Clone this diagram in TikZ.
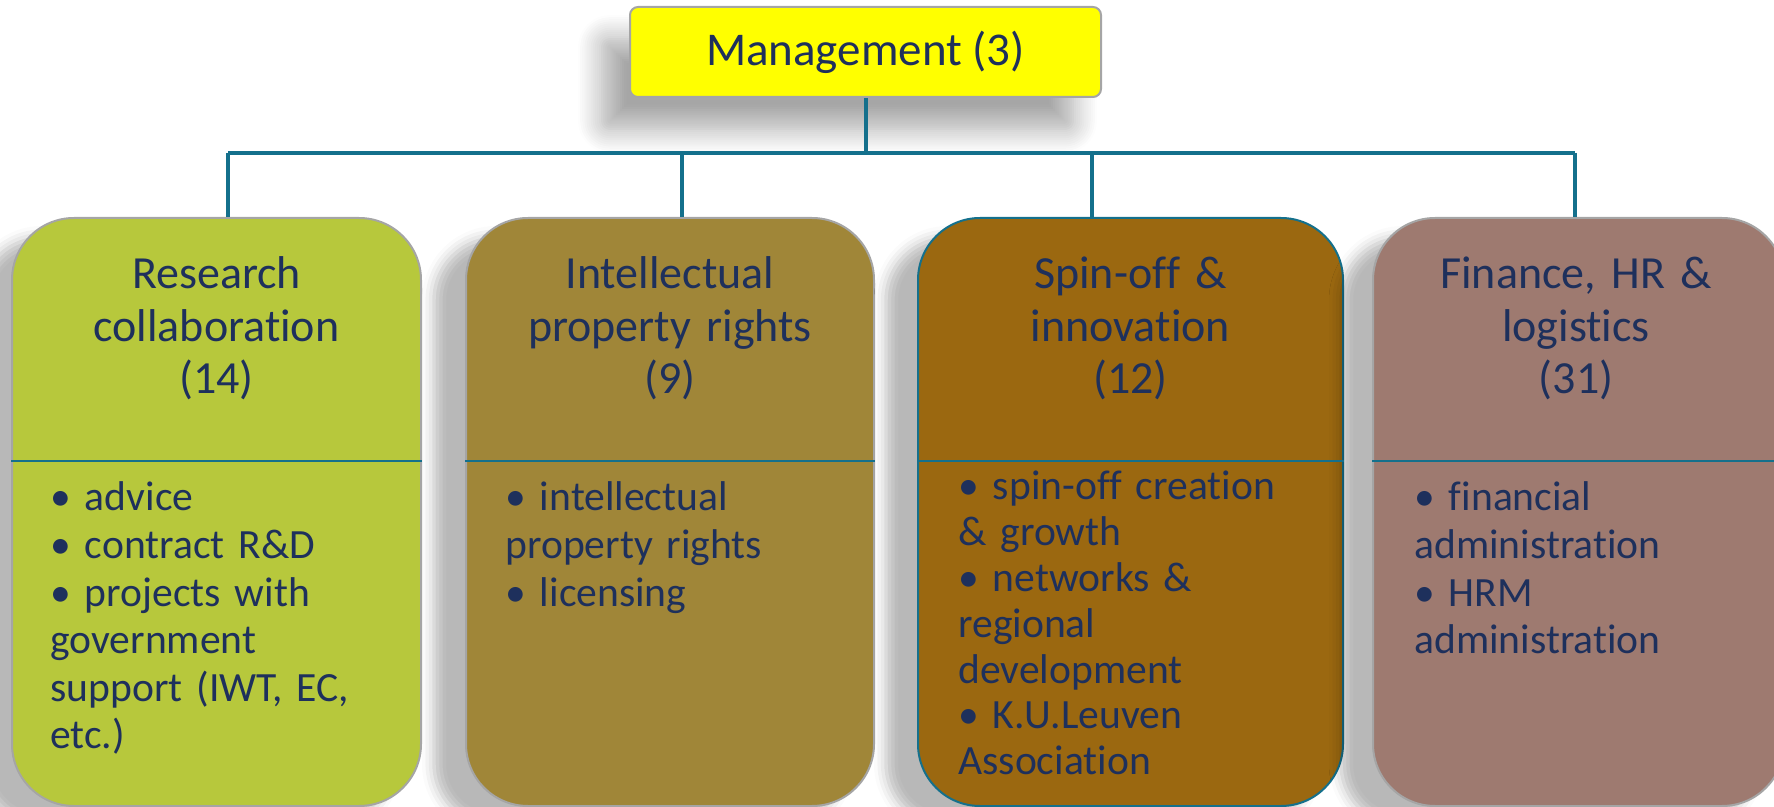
\documentclass[tikz,border=0pt]{standalone}
\usepackage{fontspec}
\setmainfont{Carlito}[Ligatures=NoCommon]
\usetikzlibrary{positioning}
\usetikzlibrary{shadows.blur}
\definecolor{ctx}{RGB}{30,48,92}
\definecolor{cln}{RGB}{20,112,140}
\definecolor{cbd}{RGB}{165,165,165}
\definecolor{cm}{RGB}{255,255,0}
\definecolor{c1}{RGB}{183,200,60}
\definecolor{c2}{RGB}{160,134,56}
\definecolor{c3}{RGB}{155,104,16}
\definecolor{c4}{RGB}{158,122,112}
\tikzstyle{boss}=[ctx, draw=cbd, line width=1pt, fill=cm, rounded corners=4pt, minimum width=235.5pt, minimum height=45pt, font=\fontsize{23.5}{26}\selectfont, blur shadow={shadow xshift=-14pt, shadow yshift=-16pt, shadow opacity=35, shadow blur radius=12pt, shadow blur steps=12}]
\tikzstyle{unit}=[draw=cbd, line width=1pt, rounded corners=31pt, minimum height=294pt, blur shadow={shadow xshift=-16pt, shadow yshift=-10pt, shadow opacity=28, shadow blur radius=6pt}]
\tikzstyle{head}=[ctx, text width=190pt, align=center, inner sep=0pt, font=\fontsize{23}{26.2}\selectfont]
\tikzstyle{body}=[ctx, text width=175pt, align=left, inner sep=0pt, font=\fontsize{20.8}{23.8}\selectfont]
\tikzstyle{link}=[cln, line width=2pt]
\tikzstyle{split}=[cln, line width=1pt]

\begin{document}
\begin{tikzpicture}[x=0.5pt, y=-0.5pt]
  \useasboundingbox (0,0) rectangle (1774,807);
  \clip (0,0) rectangle (1774,807);

  \node [boss] (mgmt) at (865.5,52) {Management (3)};

  \node [unit, fill=c1, minimum width=204.5pt] (rc) at (216.5,512) {};
  \node [unit, fill=c2, minimum width=204pt] (ipr) at (670,512) {};
  \node [unit, fill=c3, draw=cln, minimum width=212.5pt] (spin) at (1130.5,512) {};
  \node [unit, fill=c4, minimum width=205.5pt] (fin) at (1578.5,512) {};

  \node [head, anchor=base] (rchead) at (216.5,289) {Research\\collaboration\\(14)};
  \node [head, anchor=base] (iprhead) at (670,289) {Intellectual\\property rights\\(9)};
  \node [head, anchor=base] (spinhead) at (1130.5,289) {Spin-off \&\\innovation\\(12)};
  \node [head, anchor=base] (finhead) at (1576,289) {Finance, HR \&\\logistics\\(31)};

  \coordinate (cut) at (0,461);
  \draw [split] (rc.west |- cut) -- (rc.east |- cut);
  \draw [split] (ipr.west |- cut) -- (ipr.east |- cut);
  \draw [split] (spin.west |- cut) -- (spin.east |- cut);
  \draw [split] (fin.west |- cut) -- (fin.east |- cut);

  \node [body, anchor=base west] (rcbody) at (50,511)
    {• advice\\• contract R\&D\\• projects with\\government\\support (IWT, EC,\\etc.)};
  \node [body, anchor=base west] (iprbody) at (505,511)
    {• intellectual\\property rights\\• licensing};
  \node [body, anchor=base west, font=\fontsize{20.8}{22.9}\selectfont] (spinbody) at (958,500)
    {• spin-off creation\\\& growth\\• networks \&\\regional\\development\\• K.U.Leuven\\Association};
  \node [body, anchor=base west] (finbody) at (1414,511)
    {• financial\\administration\\• HRM\\administration};

  % tree
  \coordinate (d1) at (228,153);
  \coordinate (d2) at (682,153);
  \coordinate (d3) at (1092,153);
  \coordinate (d4) at (1575,153);
  \draw [link] (mgmt.south) -- (mgmt.south |- d1);
  \draw [link] (d1) -- (d4);
  \draw [link] (d1) -- (d1 |- rc.north);
  \draw [link] (d2) -- (d2 |- ipr.north);
  \draw [link] (d3) -- (d3 |- spin.north);
  \draw [link] (d4) -- (d4 |- fin.north);
\end{tikzpicture}
\end{document}
